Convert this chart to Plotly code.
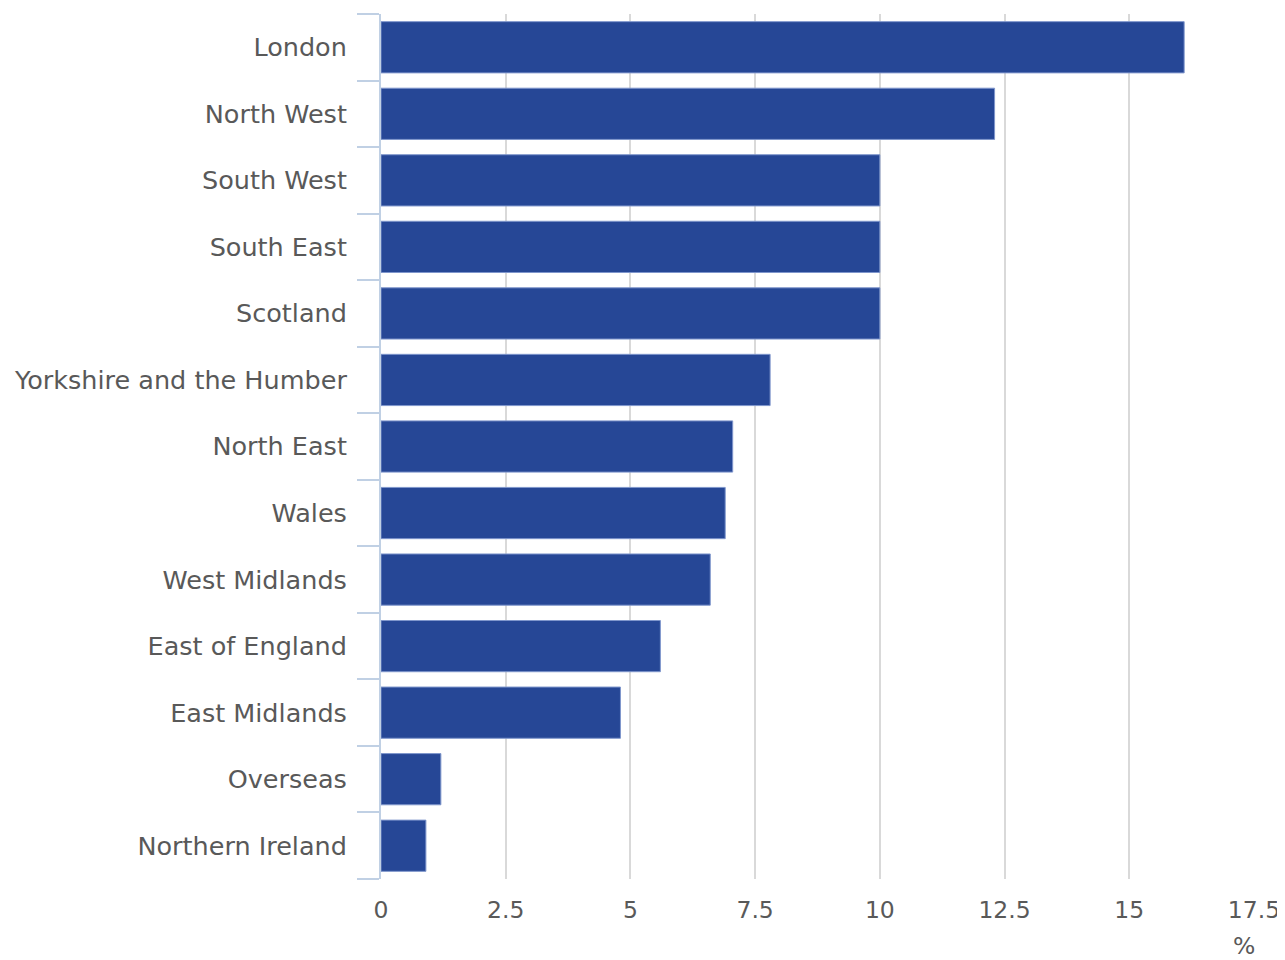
import plotly.graph_objects as go

regions = ["London", "North West", "South West", "South East", "Scotland",
           "Yorkshire and the Humber", "North East", "Wales", "West Midlands",
           "East of England", "East Midlands", "Overseas", "Northern Ireland"]
values = [16.1, 12.3, 10.0, 10.0, 10.0, 7.8, 7.05, 6.9, 6.6, 5.6, 4.8, 1.2, 0.9]
x_ticks = [0, 2.5, 5, 7.5, 10, 12.5, 15, 17.5]
x_labels = ["0", "2.5", "5", "7.5", "10", "12.5", "15", "17.5"]

font_family = "DejaVu Sans"
text_color = "#595959"
fsize = 25.5
xsize = 23.5

fig = go.Figure(go.Bar(
    x=values,
    y=regions,
    orientation="h",
    marker=dict(color="#264796", line=dict(color="#7f96cc", width=1)),
    width=0.77,
    hoverinfo="x+y",
))

fig.update_layout(
    width=1285, height=960,
    margin=dict(l=373, r=39, t=6, b=89),
    paper_bgcolor="white", plot_bgcolor="white",
    showlegend=False,
    font=dict(family=font_family, size=fsize, color=text_color),
    bargap=0.23,
)

fig.update_xaxes(
    range=[0, 17.5], automargin=False,
    tickvals=x_ticks, ticktext=x_labels,
    showgrid=True, gridcolor="#d9d9d9", gridwidth=2,
    zeroline=False, showline=False,
    ticks="outside", ticklen=10, tickcolor="rgba(0,0,0,0)",
    tickfont=dict(family=font_family, size=xsize, color=text_color),
)

fig.update_yaxes(
    categoryorder="array", categoryarray=regions[::-1],
    tickson="boundaries", automargin=False,
    ticks="outside", ticklen=22, tickwidth=2, tickcolor="#c0d0e4",
    showline=True, linecolor="#c0d0e4", linewidth=2,
    showgrid=False, zeroline=False,
    ticklabelstandoff=27,
    tickfont=dict(family=font_family, size=fsize, color=text_color),
)

fig.add_annotation(
    x=0.988, xref="paper", y=-0.077, yref="paper",
    text="%", showarrow=False, xanchor="center", yanchor="middle",
    font=dict(family=font_family, size=xsize, color=text_color),
)

fig.write_html("out.html")
